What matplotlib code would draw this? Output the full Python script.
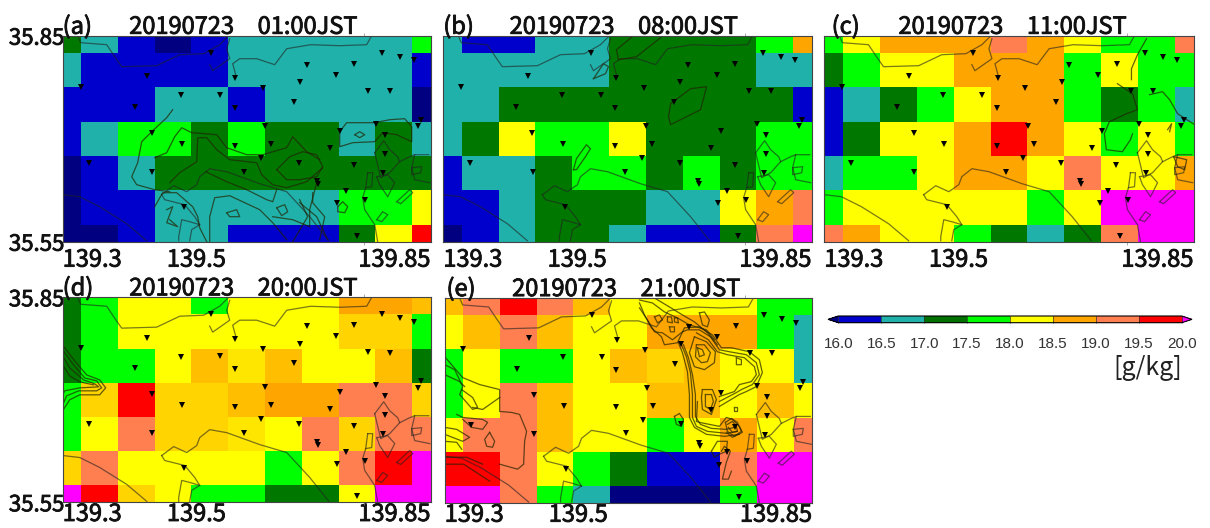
import numpy as np
import matplotlib
matplotlib.use('Agg')
import matplotlib.pyplot as plt
import matplotlib.patheffects as pe
from matplotlib.colors import ListedColormap, BoundaryNorm
from matplotlib.cm import ScalarMappable

W, H = 1210, 528
JP = ['Noto Sans CJK JP', 'DejaVu Sans']

# mixing ratio class values [g/kg]
N, B, T, D, G, Y, Y2, A1, A, O, C, R, M = 15.8, 16.25, 16.75, 17.25, 17.75, 18.25, 18.55, 18.65, 18.8, 18.95, 19.25, 19.75, 20.2

LONS = [139.30, 139.355, 139.41, 139.465, 139.52, 139.575, 139.63, 139.685, 139.74, 139.795, 139.85]
LATS = [35.85, 35.80, 35.75, 35.70, 35.65, 35.60, 35.55]

q_a = [[D, T, B, N, B, T, T, T, T, T, G],
       [T, B, B, B, B, T, T, T, T, T, B],
       [B, B, B, T, T, B, T, T, T, T, N],
       [B, T, G, G, D, G, D, D, T, D, T],
       [N, B, T, D, D, D, D, D, D, D, D],
       [N, B, B, T, T, T, T, T, G, G, Y],
       [N, N, B, T, T, B, B, B, D, Y, R]]
q_b = [[T, B, B, T, T, D, D, D, D, G, O],
       [T, T, T, T, T, D, D, D, D, T, T],
       [T, T, D, D, D, D, D, D, D, D, B],
       [T, D, Y, G, G, Y, D, D, D, G, G],
       [B, T, T, D, G, G, D, G, D, G, G],
       [B, B, T, D, D, D, T, T, Y, O, C],
       [N, B, T, D, D, T, B, B, D, C, M]]
q_c = [[G, Y, O, O, O, C, O, Y, G, G, C],
       [D, G, Y, Y, O, O, O, G, Y, G, G],
       [B, T, D, G, Y, O, O, G, D, G, T],
       [B, D, Y, Y, O, R, O, Y, G, Y, G],
       [T, G, G, Y, O, O, Y, C, Y, Y, O],
       [G, Y, Y, Y, Y, Y, G, Y, M, M, M],
       [C, O, Y, Y, G, D, T, D, C, M, M]]
q_d = [[D, G, Y, Y, G, Y, Y, Y, O, O, A],
       [D, G, Y, Y, Y, Y, Y, Y, A1, A1, G],
       [D, G, G, Y, A, Y2, A, Y, Y, A, D],
       [G, A1, R, A1, A1, A, O, O, C, C, A1],
       [G, Y, C, A1, A1, Y2, Y, C, A1, C, C],
       [A1, C, Y, Y, Y, Y, G, Y, C, R, M],
       [M, R, A1, Y, G, G, D, D, Y, M, M]]
q_e = [[A, C, R, C, A, Y, Y, Y, Y, G, G],
       [Y, A, C, A, Y, Y, O, O, O, G, T],
       [G, Y, G, G, Y, A, A1, A, Y, Y, T],
       [G, Y, C, A, Y, Y, A, A, Y, A, Y],
       [Y, C, C, A, Y, Y, G, Y, O, Y, C],
       [R, R, C, Y, G, D, B, B, C, M, M],
       [M, M, C, G, T, N, N, N, G, M, M]]

station_lon = [139.521, 139.777, 139.804, 139.825, 139.665, 139.736, 139.558, 139.708, 139.426, 139.654, 139.327,
               139.599, 139.757, 139.789, 139.477, 139.535, 139.645, 139.408, 139.557, 139.836, 139.768, 139.603,
               139.831, 139.714, 139.433, 139.782, 139.478, 139.612, 139.557, 139.699, 139.782, 139.596, 139.340,
               139.653, 139.735, 139.434, 139.571, 139.779, 139.680, 139.682, 139.723, 139.752, 139.710, 139.482,
               139.740]
station_lat = [35.825, 35.825, 35.819, 35.814, 35.808, 35.809, 35.789, 35.793, 35.791, 35.782, 35.776,
               35.774, 35.770, 35.769, 35.763, 35.764, 35.754, 35.746, 35.745, 35.727, 35.721, 35.719,
               35.718, 35.711, 35.708, 35.705, 35.692, 35.692, 35.690, 35.686, 35.678, 35.672, 35.664,
               35.665, 35.661, 35.651, 35.652, 35.650, 35.638, 35.634, 35.624, 35.611, 35.606, 35.600,
               35.559]

levels = [16.0, 16.5, 17.0, 17.5, 18.0, 18.5, 19.0, 19.5, 20.0]
cb_colors = ['#0000cd', '#20b2aa', '#007000', '#00ff00', '#ffff00', '#ffa500', '#ff7f50', '#ff0000']

# map traces, in map units (368 east, 206 south of the NW corner)
coast = [
    [(15, 0), (18, 7), (44, 9), (52, 21), (59, 31), (94, 30), (117, 19), (141, 18), (157, 9), (166, 0)],
    [(147, 29), (150, 35), (167, 23), (164, 13), (167, 3)],
    [(173, 39), (170, 28), (177, 23), (194, 23), (212, 29), (224, 13), (248, 9), (277, 10), (304, 9), (309, 0)],
    [(99, 159), (111, 150), (124, 156), (134, 149), (137, 141), (147, 133), (164, 136), (197, 148), (224, 156), (247, 181), (266, 205)],
    [(99, 159), (102, 164), (122, 169), (132, 181), (137, 189), (129, 194), (127, 205)],
    [(116, 205), (116, 201), (119, 184), (127, 186), (137, 189)],
    [(0, 159), (17, 161), (37, 171), (64, 188), (84, 205)],
    [(305, 137), (303, 152), (300, 162), (302, 174), (312, 189), (315, 206)],
    [(305, 137), (310, 137), (309, 151), (303, 152)],
    [(312, 117), (321, 105), (327, 114), (335, 121), (337, 126), (347, 121), (352, 119), (366, 119)],
    [(314, 141), (325, 139), (332, 147), (325, 161), (317, 149), (314, 141)],
    [(334, 166), (347, 154), (350, 157), (338, 168), (334, 166)],
    [(314, 184), (320, 176), (325, 179), (319, 186), (314, 184)],
    [(349, 132), (359, 131), (358, 137), (349, 139), (349, 132)],
    [(352, 119), (349, 132), (352, 144), (367, 147)],
    [(337, 126), (327, 137), (318, 142), (312, 117)],
]
contour_a = [
    [(110, 74), (104, 82), (89, 96), (79, 106), (75, 127), (69, 141), (74, 149), (92, 154), (107, 156)],
    [(92, 122), (104, 117), (112, 101), (119, 92), (129, 97), (154, 99), (164, 112), (184, 119), (200, 119), (224, 112), (230, 101), (244, 116), (257, 124)],
    [(107, 147), (117, 137), (134, 126), (135, 102), (144, 102), (154, 114), (167, 124), (194, 127), (199, 139), (210, 149), (224, 152), (244, 146), (260, 132)],
    [(143, 136), (164, 146), (184, 154), (204, 164), (210, 166), (214, 154)],
    [(214, 134), (227, 121), (240, 116), (254, 119), (260, 131), (254, 141), (237, 144), (224, 144), (214, 134)],
    [(92, 171), (100, 157), (114, 157), (130, 171), (135, 181), (137, 192), (144, 206)],
    [(147, 206), (147, 181), (152, 162), (167, 160), (197, 174), (210, 187), (224, 204)],
    [(230, 206), (245, 181), (237, 164)],
    [(210, 181), (230, 184), (247, 191), (247, 174), (254, 147)],
    [(214, 172), (222, 169), (225, 176), (219, 180), (214, 172)],
    [(164, 177), (174, 174), (177, 181), (167, 181), (164, 177)],
    [(104, 174), (110, 171), (104, 187), (115, 191), (107, 184)],
    [(277, 96), (284, 87), (312, 87), (327, 84), (342, 83), (349, 91), (349, 106), (334, 99), (320, 97), (312, 106), (290, 107), (277, 111), (277, 96)],
    [(292, 99), (297, 96), (302, 99), (297, 102), (292, 99)],
    [(275, 171), (280, 166), (285, 171), (282, 177), (275, 176), (275, 171)],
    [(250, 157), (250, 167), (262, 181), (257, 204)],
    [(237, 167), (254, 181), (265, 204)],
]
contour_b = [
    [(225, 81), (227, 68), (247, 53), (263, 51), (257, 74), (227, 89), (225, 81)],
    [(130, 134), (133, 123), (143, 109), (147, 113), (142, 121), (133, 134), (130, 134)],
    [(150, 43), (160, 28), (165, 31), (162, 38), (150, 43)],
    [(190, 0), (173, 14), (175, 24), (193, 21), (217, 2)],
]
contour_c = [
    [(292, 48), (307, 58), (312, 74), (301, 78), (284, 86), (279, 98), (281, 114), (297, 116), (305, 104), (307, 98)],
    [(324, 59), (337, 56), (344, 64), (352, 78), (369, 89)],
    [(342, 94), (346, 88), (344, 96)],
    [(321, 3), (312, 19), (306, 33), (306, 44)],
    [(348, 121), (352, 131), (359, 134), (361, 124), (348, 121)],
]
contour_d = [
    [(0, 48), (12, 64), (24, 78), (37, 83), (43, 91), (37, 98), (17, 98), (7, 103), (0, 114)],
    [(0, 53), (11, 68), (22, 81), (34, 84), (39, 91), (34, 94), (16, 94), (4, 99), (0, 108)],
    [(0, 59), (7, 71), (21, 83), (32, 87), (36, 90), (17, 91), (2, 94), (0, 98)],
    [(0, 68), (7, 79), (17, 85), (31, 88)],
]
contour_e = [
    [(0, 59), (18, 80), (35, 87), (55, 92), (55, 114), (67, 115), (75, 117), (82, 134), (80, 144), (79, 167), (73, 172), (55, 167)],
    [(0, 67), (10, 72), (18, 89), (15, 97), (28, 112), (33, 110), (28, 100), (17, 92)],
    [(0, 77), (15, 84), (20, 89)],
    [(28, 110), (38, 112), (55, 100)],
    [(12, 117), (18, 120), (38, 122), (43, 125), (38, 132), (27, 130), (18, 122)],
    [(0, 130), (12, 132), (25, 140), (18, 144), (0, 137)],
    [(0, 144), (12, 145), (17, 152)],
    [(45, 135), (50, 144), (48, 150), (42, 149), (40, 142), (45, 135)],
    [(0, 160), (22, 160), (38, 167)],
    [(0, 167), (19, 167), (45, 184)],
    [(234, 45), (238, 55), (243, 74), (245, 97), (245, 120), (250, 130), (262, 137), (280, 139), (295, 137)],
    [(237, 47), (242, 59), (246, 75), (248, 97), (248, 120), (252, 129), (263, 134), (282, 136), (293, 134)],
    [(239, 47), (244, 60), (248, 77), (251, 97), (251, 119), (256, 127), (267, 131), (282, 132), (290, 130)],
    [(258, 92), (268, 92), (272, 102), (267, 117), (258, 112), (257, 100), (258, 92)],
    [(261, 97), (267, 97), (269, 104), (266, 112), (261, 109), (261, 97)],
    [(253, 104), (252, 124), (255, 125), (275, 129), (282, 120), (288, 122), (295, 129), (298, 135), (288, 140), (282, 135)],
    [(281, 125), (287, 121), (293, 125), (297, 134), (290, 139), (283, 134), (281, 125)],
    [(283, 127), (288, 124), (292, 129), (293, 134), (288, 135), (284, 130)],
    [(195, 5), (200, 17), (207, 30), (217, 39), (220, 47), (233, 45), (240, 30), (255, 29), (268, 37), (277, 50), (287, 50), (305, 54), (315, 62), (318, 75), (312, 89), (302, 94), (295, 97), (275, 109)],
    [(195, 10), (203, 22), (210, 34), (218, 35), (228, 42), (238, 34), (243, 32), (255, 32), (266, 39), (275, 52), (285, 54), (302, 57), (312, 65), (315, 77), (308, 87), (297, 92), (292, 95), (275, 104)],
    [(252, 35), (264, 42), (273, 54), (283, 57), (300, 60), (310, 69), (312, 77), (307, 84), (295, 87), (290, 94), (275, 99)],
    [(250, 39), (262, 44), (271, 54), (270, 65), (260, 72), (250, 69), (245, 55), (250, 39)],
    [(252, 47), (260, 47), (266, 55), (263, 64), (257, 65), (251, 59), (252, 47)],
    [(253, 50), (258, 52), (260, 57), (255, 59), (253, 50)],
    [(198, 0), (210, 0), (225, 9), (238, 17), (250, 24), (263, 35), (273, 47)],
    [(195, 2), (208, 5), (220, 14), (233, 20), (245, 27), (262, 32), (270, 42)],
    [(210, 19), (215, 17), (218, 22), (213, 25), (210, 19)],
    [(223, 19), (227, 19), (228, 25), (223, 24), (223, 19)],
    [(230, 20), (233, 20), (234, 25), (230, 24), (230, 20)],
    [(225, 29), (230, 29), (230, 34), (226, 34), (225, 29)],
    [(255, 15), (260, 14), (265, 22), (263, 29), (258, 27), (255, 15)],
    [(292, 60), (297, 62), (297, 67), (292, 67), (292, 60)],
    [(290, 110), (293, 110), (293, 114), (290, 114), (290, 110)],
    [(230, 119), (235, 116), (239, 122), (237, 129), (232, 127), (230, 119)],
    [(267, 154), (273, 144), (283, 144), (282, 154), (275, 157), (270, 160), (267, 154)],
    [(277, 154), (280, 149), (286, 154), (282, 165), (278, 182), (284, 182), (287, 174)],
]

panel_grid = [q_a, q_b, q_c, q_d, q_e]
panel_contour = [contour_a, contour_b, contour_c, contour_d, contour_e]
panel_tag = ['(a)', '(b)', '(c)', '(d)', '(e)']
panel_time = ['01:00JST', '08:00JST', '11:00JST', '20:00JST', '21:00JST']
panel_date = '20190723'
lon_tick_labels = ['139.3', '139.5', '139.85']
lat_tick_labels = ['35.55', '35.85']

# pixel boxes: left, right, top, bottom
boxes = [(62.7, 430.7, 35.7, 241.7), (443.3, 811.7, 35.7, 241.7), (824.3, 1193.7, 35.7, 241.7),
         (62.7, 430.7, 297.3, 502.3), (444.7, 812.3, 298.0, 503.0)]
title_x = [0.49, 0.489, 0.509, 0.49, 0.493]
tag_x = [0.0, 0.0, 0.02, 0.0, 0.005]
label_pad = [5, 5, 5, 0.5, 0.5]

fine_bounds = [15.5, 16.0, 16.5, 17.0, 17.5, 18.0, 18.5, 18.6, 18.7, 18.87, 19.0, 19.5, 20.0, 20.5]
fine_colors = ['#000080', '#0000cd', '#20b2aa', '#007800', '#00ff00', '#ffff00', '#ffe600', '#ffd400',
               '#ffbe00', '#ffa500', '#ff7f50', '#ff0000', '#ff00ff']
cmap = ListedColormap(fine_colors)
norm = BoundaryNorm(fine_bounds, cmap.N)
HEAVY = [pe.withStroke(linewidth=0.6, foreground='#111111')]


def to_lonlat(trace):
    t = np.array(trace, float)
    return LONS[0] + t[:, 0] / 368 * (LONS[-1] - LONS[0]), LATS[0] - t[:, 1] / 206 * (LATS[0] - LATS[-1])


fig = plt.figure(figsize=(W / 100, H / 100), dpi=100, facecolor='white')

for i, (l, r, t, b) in enumerate(boxes):
    ax = fig.add_axes([l / W, 1 - b / H, (r - l) / W, (b - t) / H])
    ax.pcolormesh(LONS, LATS, np.array(panel_grid[i]), cmap=cmap, norm=norm, shading='nearest', linewidth=0)
    for tr in coast:
        x, y = to_lonlat(tr)
        ax.plot(x, y, color='#222222', lw=0.9, alpha=0.6, solid_joinstyle='round')
    for tr in panel_contour[i]:
        x, y = to_lonlat(tr)
        ax.plot(x, y, color='#222200', lw=0.9, alpha=0.7, solid_joinstyle='round')
    ax.plot(station_lon, station_lat, ls='none', marker='v', ms=3.8, color='black', mew=0)
    ax.set_xlim(LONS[0], LONS[-1])
    ax.set_ylim(LATS[-1], LATS[0])
    ax.set_xticks([139.3, 139.5, 139.85])
    ax.set_xticklabels(lon_tick_labels, family=JP, fontsize=17, color='#111111')
    hal = ['left', 'center', 'right']
    for lab, ha in zip(ax.get_xticklabels(), hal):
        lab.set_ha(ha)
        lab.set_path_effects(HEAVY)
    ax.tick_params(axis='x', which='major', length=0, pad=label_pad[i])
    ax.set_xticks([139.5, 139.75], minor=True)
    ax.tick_params(axis='x', which='minor', length=2, width=0.5, color='#888888', top=True, direction='out')
    if i in (0, 3):
        ax.set_yticks([35.55, 35.85])
        ax.set_yticklabels(lat_tick_labels, family=JP, fontsize=16, color='#111111')
        for lab in ax.get_yticklabels():
            lab.set_path_effects(HEAVY)
        ax.tick_params(axis='y', length=0, pad=-1)
    else:
        ax.set_yticks([])
    for s in ax.spines.values():
        s.set_linewidth(0.8)
        s.set_color('#444444')
    ax.text(tag_x[i], 0.985, panel_tag[i], transform=ax.transAxes, family=JP, fontsize=17,
            ha='left', va='bottom', color='#111111', path_effects=HEAVY)
    ax.text(title_x[i], 0.985, panel_date + '\u3000' + panel_time[i], transform=ax.transAxes, family=JP, fontsize=17,
            ha='center', va='bottom', color='#111111', path_effects=HEAVY)

# colour bar
cax = fig.add_axes([828 / W, 1 - 322.7 / H, 364 / W, 6.7 / H])
cb_cmap = ListedColormap(cb_colors)
cb_cmap.set_under('#000080')
cb_cmap.set_over('#ff00ff')
cb = fig.colorbar(ScalarMappable(norm=BoundaryNorm(levels, cb_cmap.N), cmap=cb_cmap), cax=cax,
                  orientation='horizontal', extend='both', extendfrac=0.03, ticks=levels, drawedges=True)
cb.dividers.set_linewidth(0.5)
cb.dividers.set_color('#333333')
cb.outline.set_linewidth(0.8)
cb.ax.set_xticklabels(['%.1f' % v for v in levels], family='Liberation Sans', fontsize=11, color='#333333')
cb.ax.tick_params(length=0, pad=10)
fig.text(1148 / W, 1 - 368 / H, '[g/kg]', family=JP, fontsize=18, ha='center', va='center', color='#222222')

fig.savefig('out.png', dpi=100)
